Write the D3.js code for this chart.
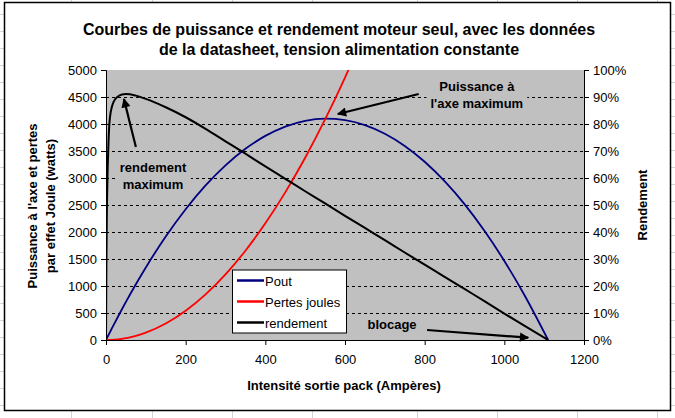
<!DOCTYPE html>
<html>
<head>
<meta charset="utf-8">
<script src="https://cdn.jsdelivr.net/npm/d3@7"></script>
<style>
  body { margin: 0; background: #fff; }
  svg text { font-family: Arial, "Liberation Sans", sans-serif; fill: #000; }
</style>
</head>
<body>
<svg></svg>
<script>
// intensité (A) et séries
const intensite = [0, 1, 2, 4, 6, 8, 10, 15, 20, 30, 40, 50, 60, 75, 100, 150, 200, 250, 300, 350,
  400, 450, 500, 550, 600, 650, 700, 750, 800, 850, 900, 950, 1000, 1050, 1110];
const pout = [0, 15, 30, 59, 88, 117, 146, 219, 290, 431, 570, 705, 838, 1033, 1344, 1917, 2422, 2862, 3234, 3540,
  3780, 3953, 4060, 4099, 4073, 3980, 3820, 3594, 3301, 2941, 2516, 2023, 1464, 839, 0];
const pertesJoules = [0, 0, 0, 0, 0, 1, 1, 3, 5, 12, 22, 34, 49, 76, 135, 304, 540, 844, 1215, 1654,
  2160, 2734, 3375, 4084, 4860, 5704, 6615, 7594, 8640, 9754, 10935, 12184, 13500, 14884, 16633];
const rendement = [0, 28, 45, 62, 72, 79, 82.5, 86.5, 88.5, 90.2, 90.9, 91.1, 91.0, 90.5, 89.3, 86.2, 82.5, 78.2, 73.6, 69.0,
  64.3, 59.7, 55.1, 50.6, 46.0, 41.5, 37.0, 32.4, 27.9, 23.4, 18.9, 14.4, 9.8, 5.3, 0];

const wattTicks = [0, 500, 1000, 1500, 2000, 2500, 3000, 3500, 4000, 4500, 5000];
const pctTicks = [0, 10, 20, 30, 40, 50, 60, 70, 80, 90, 100];
const ampTicks = [0, 200, 400, 600, 800, 1000, 1200];

const titleLines = ["Courbes de puissance et rendement moteur seul, avec les données",
  "de la datasheet, tension alimentation constante"];
const yTitleLines = ["Puissance à l'axe et pertes", "par effet Joule (watts)"];

const seriesNames = ["Pout", "Pertes joules", "rendement"];
const seriesColors = ["#000080", "#ff0000", "#000000"];

// annotations en unités du graphique : [I, W]
const notes = [
  { lines: ["Puissance à", "l'axe maximum"], at: [931, 4704], from: [785, 4555], to: [582, 4185] },
  { lines: ["rendement", "maximum"], at: [118, 3204], from: [75, 3574], to: [45, 4463] },
  { lines: ["blocage"], at: [718, 296], from: [806, 185], to: [1060, 43] },
];

let width = 675;
let height = 418;
const plot = { left: 106, right: 584, top: 70, bottom: 340 };

const svg = d3.select("svg").attr("width", width).attr("height", height);

let xScale, yScale, y2Scale;

const drawSheet = () => {
  // feuille Excel derrière le graphique
  const cols = [71, 152, 232, 312, 417, 497, 577, 657];
  svg.selectAll("line.col").data(cols).enter().append("line")
    .attr("x1", (d) => d + 0.5).attr("x2", (d) => d + 0.5)
    .attr("y1", 0).attr("y2", height)
    .attr("stroke", "#d4d4d4");
  svg.selectAll("line.row").data(d3.range(14, height, 17)).enter().append("line")
    .attr("y1", (d) => d + 0.5).attr("y2", (d) => d + 0.5)
    .attr("x1", 0).attr("x2", width)
    .attr("stroke", "#d4d4d4");
  svg.append("rect")
    .attr("x", 4.5).attr("y", 2.5).attr("width", 666).attr("height", 408)
    .attr("fill", "#fff").attr("stroke", "#000").attr("stroke-width", 1.5);
};

const generateScales = () => {
  xScale = d3.scaleLinear().domain([0, 1200]).range([plot.left, plot.right]);
  yScale = d3.scaleLinear().domain([0, 5000]).range([plot.bottom, plot.top]);
  y2Scale = d3.scaleLinear().domain([0, 100]).range([plot.bottom, plot.top]);
};

const drawPlotArea = () => {
  svg.append("rect")
    .attr("x", plot.left).attr("y", plot.top)
    .attr("width", plot.right - plot.left).attr("height", plot.bottom - plot.top)
    .attr("fill", "#c0c0c0");

  svg.append("g").selectAll("line").data(wattTicks.slice(1, -1)).enter().append("line")
    .attr("x1", plot.left).attr("x2", plot.right)
    .attr("y1", (d) => Math.round(yScale(d)) + 0.5).attr("y2", (d) => Math.round(yScale(d)) + 0.5)
    .attr("stroke", "#000").attr("stroke-dasharray", "3,3");

  svg.append("clipPath").attr("id", "clip").append("rect")
    .attr("x", plot.left).attr("y", plot.top)
    .attr("width", plot.right - plot.left).attr("height", plot.bottom - plot.top);
};

const drawLines = () => {
  const rows = intensite.map((d, i) => ({ i: d, pout: pout[i], pj: pertesJoules[i], r: rendement[i] }));
  const g = svg.append("g").attr("clip-path", "url(#clip)");

  const lineW = (key) => d3.line().curve(d3.curveMonotoneX)
    .x((d) => xScale(d.i)).y((d) => yScale(d[key]));
  const lineR = d3.line().curve(d3.curveMonotoneX)
    .x((d) => xScale(d.i)).y((d) => y2Scale(d.r));

  g.append("path").datum(rows).attr("d", lineW("pout"))
    .attr("fill", "none").attr("stroke", seriesColors[0]).attr("stroke-width", 1.8);
  g.append("path").datum(rows).attr("d", lineW("pj"))
    .attr("fill", "none").attr("stroke", seriesColors[1]).attr("stroke-width", 1.8);
  g.append("path").datum(rows).attr("d", lineR)
    .attr("fill", "none").attr("stroke", seriesColors[2]).attr("stroke-width", 2);
};

const generateAxes = () => {
  const xAxis = d3.axisBottom(xScale).tickValues(ampTicks).tickSize(5).tickPadding(8)
    .tickFormat(d3.format("d"));
  const yAxis = d3.axisLeft(yScale).tickValues(wattTicks).tickSize(5).tickPadding(4)
    .tickFormat(d3.format("d"));
  const y2Axis = d3.axisRight(y2Scale).tickValues(pctTicks).tickSize(5).tickPadding(4)
    .tickFormat((d) => d + "%");

  const styleAxis = (g) => {
    g.select(".domain").attr("stroke", "#000");
    g.selectAll(".tick line").attr("stroke", "#000");
    g.selectAll(".tick text").style("font-size", "13px").attr("fill", "#000");
    g.attr("font-family", null);
  };

  svg.append("g").attr("transform", `translate(0, ${plot.bottom})`).call(xAxis).call(styleAxis)
    .selectAll(".tick text").attr("dy", "0.85em");
  svg.append("g").attr("transform", `translate(${plot.left}, 0)`).call(yAxis).call(styleAxis);
  svg.append("g").attr("transform", `translate(${plot.right}, 0)`).call(y2Axis).call(styleAxis);
};

const drawTitles = () => {
  svg.append("g").selectAll("text").data(titleLines).enter().append("text")
    .attr("x", 339).attr("y", (d, i) => 35 + i * 20)
    .attr("text-anchor", "middle")
    .style("font-size", "16px").style("font-weight", "bold")
    .text((d) => d);

  svg.append("text")
    .attr("x", (plot.left + plot.right) / 2 - 1).attr("y", 390)
    .attr("text-anchor", "middle")
    .style("font-size", "13px").style("font-weight", "bold")
    .text("Intensité sortie pack (Ampères)");

  svg.append("g").selectAll("text").data(yTitleLines).enter().append("text")
    .attr("transform", (d, i) => `translate(${37 + i * 18}, 206) rotate(-90)`)
    .attr("text-anchor", "middle")
    .style("font-size", "13px").style("font-weight", "bold")
    .text((d) => d);

  svg.append("text")
    .attr("transform", "translate(647, 205) rotate(-90)")
    .attr("text-anchor", "middle")
    .style("font-size", "13px").style("font-weight", "bold")
    .text("Rendement");
};

const drawNotes = () => {
  const defs = svg.append("defs");
  defs.append("marker")
    .attr("id", "head").attr("viewBox", "0 0 10 10")
    .attr("refX", 9).attr("refY", 5)
    .attr("markerWidth", 6).attr("markerHeight", 4.2)
    .attr("markerUnits", "strokeWidth")
    .attr("orient", "auto")
    .append("path").attr("d", "M0,0 L10,5 L0,10 Z").attr("fill", "#000");

  notes.forEach((n) => {
    const g = svg.append("g");
    const bg = g.append("rect").attr("fill", "#c0c0c0");
    g.selectAll("text").data(n.lines).enter().append("text")
      .attr("x", xScale(n.at[0]))
      .attr("y", (d, i) => yScale(n.at[1]) + 5 + i * 17)
      .attr("text-anchor", "middle")
      .style("font-size", "13px").style("font-weight", "bold")
      .attr("fill", "#333")
      .text((d) => d);
    const box = g.node().getBBox();
    bg.attr("x", box.x - 4).attr("y", box.y - 2)
      .attr("width", box.width + 8).attr("height", box.height + 4);

    svg.append("line")
      .attr("x1", xScale(n.from[0])).attr("y1", yScale(n.from[1]))
      .attr("x2", xScale(n.to[0])).attr("y2", yScale(n.to[1]))
      .attr("stroke", "#000").attr("stroke-width", 2.2)
      .attr("marker-end", "url(#head)");
  });
};

const drawLegend = () => {
  const lg = svg.append("g").attr("transform", "translate(232, 269.5)");
  lg.append("rect").attr("x", 0.5).attr("y", 0.5).attr("width", 114).attr("height", 63)
    .attr("fill", "#fff").attr("stroke", "#000");
  const item = lg.selectAll("g.item").data(seriesNames).enter().append("g")
    .attr("transform", (d, i) => `translate(0, ${11 + i * 21})`);
  item.append("line").attr("x1", 5).attr("x2", 32).attr("y1", 0).attr("y2", 0)
    .attr("stroke", (d, i) => seriesColors[i]).attr("stroke-width", 2.5);
  item.append("text").attr("x", 33).attr("y", 5)
    .style("font-size", "13px")
    .text((d) => d);
};

drawSheet();
generateScales();
drawPlotArea();
drawLines();
generateAxes();
drawNotes();
drawLegend();
drawTitles();
</script>
</body>
</html>
